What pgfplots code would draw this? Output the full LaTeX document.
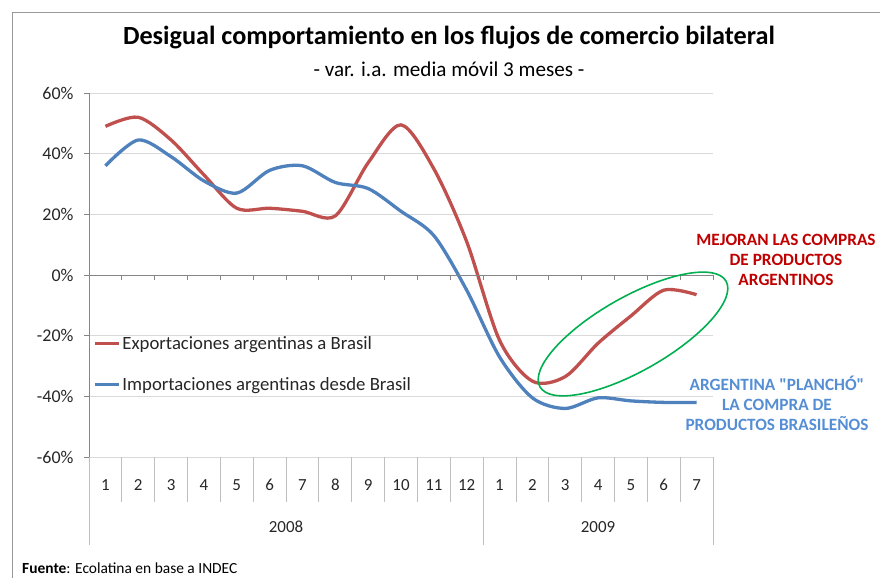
\documentclass[border=0pt]{standalone}
\usepackage{pgfplots}
\pgfplotsset{compat=1.18}
\usepackage{fontspec}
\setmainfont{Carlito}
\definecolor{redl}{HTML}{C0504D}
\definecolor{bluel}{HTML}{4F81BD}
\definecolor{redt}{HTML}{C00000}
\definecolor{bluet}{HTML}{558ED5}
\definecolor{greene}{HTML}{00B050}
\definecolor{gridc}{HTML}{D9D9D9}
\definecolor{axc}{HTML}{868686}
\definecolor{sepc}{HTML}{BFBFBF}
\begin{document}
\begin{tikzpicture}
\useasboundingbox (0,0) rectangle (880bp,578bp);
\begin{axis}[
  at={(89bp,121bp)}, anchor=south west,
  scale only axis, width=624bp, height=364bp,
  xmin=0.5, xmax=19.5, ymin=-60, ymax=60,
  axis x line=none,
  axis y line*=left,
  y axis line style={axc, line width=0.8pt, -},
  ytick={-60,-40,-20,0,20,40,60},
  yticklabel={\pgfmathprintnumber{\tick}\%},
  /pgf/number format/assume math mode=true,
  yticklabel style={font=\fontsize{18}{20}\selectfont, color=black!85, xshift=-7bp},
  ytick style={axc, line width=0.8pt},
  tick align=outside, major tick length=5bp,
  ymajorgrids, grid style={gridc, line width=0.6pt},
  legend style={at={(0.0064,0.2555)}, anchor=west, draw=none, fill=none,
    inner sep=0pt, font=\fontsize{18.8}{21}\selectfont, row sep=23bp,
    text=black!85},
  legend cell align=left,
  legend image code/.code={\draw[#1] (0bp,0bp) -- (24bp,0bp);},
  every even column/.append style={column sep=0bp},
]
\addplot[redl, line width=3.3bp, smooth, tension=0.5] coordinates {
(1,49) (2,52) (3,44.5) (4,33) (5,22) (6,22) (7,21) (8,19.5) (9,37) (10,49.5)
(11,35) (12,11) (13,-21.5) (14,-35) (15,-33.5) (16,-22.5) (17,-13.5) (18,-5) (19,-6.5)};
\addlegendentry{Exportaciones argentinas a Brasil}
\addplot[bluel, line width=3.3bp, smooth, tension=0.5] coordinates {
(1,36) (2,44.5) (3,39) (4,31) (5,27) (6,34.5) (7,36) (8,30.5) (9,28.5) (10,21)
(11,13) (12,-5) (13,-27) (14,-40.5) (15,-44) (16,-40.5) (17,-41.5) (18,-42) (19,-42)};
\addlegendentry{Importaciones argentinas desde Brasil}
\end{axis}
\begin{scope}[x=1bp, y=-1bp, shift={(0,578bp)}]
% zero axis with ticks
\draw[axc, line width=0.8pt] (89,275) -- (713,275);
\foreach \k in {0,...,19} {
  \draw[axc, line width=0.8pt] ({89+\k*624/19},275) -- ++(0,5);
}
% category separators
\foreach \k in {1,...,11,13,14,15,16,17,18} {
  \draw[sepc, line width=0.8pt] ({89+\k*624/19},457) -- ({89+\k*624/19},502);
}
\foreach \k in {0,12,19} {
  \draw[sepc, line width=0.8pt] ({89+\k*624/19},457) -- ({89+\k*624/19},545);
}
\foreach \k in {1,...,12} {
  \node[font=\fontsize{17}{19}\selectfont, text=black!85] at ({89+(\k-0.5)*624/19},485) {\k};
}
\foreach \k in {1,...,7} {
  \node[font=\fontsize{17}{19}\selectfont, text=black!85] at ({89+(\k+11.5)*624/19},485) {\k};
}
\node[font=\fontsize{17}{19}\selectfont, text=black!85] at ({89+6*624/19},527) {2008};
\node[font=\fontsize{17}{19}\selectfont, text=black!85] at ({89+15.5*624/19},527) {2009};
% frame
\draw[black!40, line width=0.8pt] (12,12) -- (880,12);
\draw[black!40, line width=0.8pt] (12,12) -- (12,578);
\node[font=\bfseries\fontsize{26.3}{30}\selectfont] at (449,38) {Desigual comportamiento en los flujos de comercio bilateral};
\node[font=\fontsize{21.2}{23}\selectfont] at (449,69) {- var. i.a. media móvil 3 meses -};
\node[anchor=west, font=\fontsize{15.5}{17}\selectfont, inner sep=0pt] at (22,568) {\textbf{Fuente}: Ecolatina en base a INDEC};
\node[align=center, font=\bfseries\fontsize{17.3}{20}\selectfont, text=redt] at (786,260) {MEJORAN LAS COMPRAS\\DE PRODUCTOS\\ARGENTINOS};
\node[align=center, font=\bfseries\fontsize{17.3}{20}\selectfont, text=bluet] at (777,403) {ARGENTINA \textquotedbl PLANCHÓ\textquotedbl\\LA COMPRA DE\\PRODUCTOS BRASILEÑOS};
\draw[greene, line width=1.6pt, rotate around={29.6:(633,334)}] (633,334) ellipse [x radius=107, y radius=37];
\end{scope}
\end{tikzpicture}
\end{document}
